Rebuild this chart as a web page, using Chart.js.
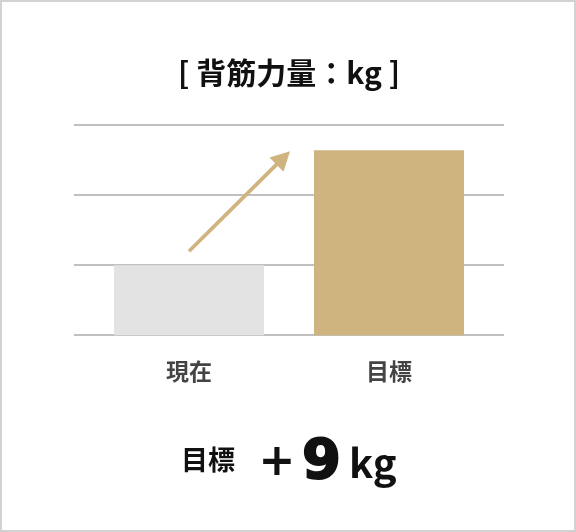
<!DOCTYPE html>
<html><head><meta charset="utf-8">
<script src="https://cdn.jsdelivr.net/npm/chart.js@4"></script>
<style>
html,body{margin:0;padding:0;background:#fff;}
#wrap{position:relative;width:576px;height:532px;box-sizing:border-box;border:2px solid #d2d2d2;background:#fff;}
#c{position:absolute;left:-2px;top:-2px;}
</style></head>
<body>
<div id="wrap"><canvas id="c" width="576" height="532"></canvas></div>
<script>
const categories = ['現在', '目標'];
const values = [1.0, 2.64];
const barColors = ['#e3e3e3', '#cfb480'];
const yTicks = [0, 1, 2, 3];
const titleText = '[ 背筋力量：kg ]';
const footLabel = '目標';
const footPlus = '+';
const footNumber = '9';
const footUnit = 'kg';

const CJK = "'Noto Sans CJK JP', 'Noto Sans', sans-serif";

const gridPlugin = {
  id: 'gridPlugin',
  beforeDatasetsDraw(chart) {
    const y = chart.scales.y, area = chart.chartArea, ctx = chart.ctx;
    const ext = 15;
    ctx.save();
    ctx.strokeStyle = '#c0c0c0';
    ctx.lineWidth = 2;
    yTicks.forEach(v => {
      const py = Math.round(y.getPixelForValue(v));
      ctx.beginPath();
      ctx.moveTo(area.left - ext, py);
      ctx.lineTo(area.right + ext, py);
      ctx.stroke();
    });
    ctx.restore();
  }
};

const arrowPlugin = {
  id: 'arrowPlugin',
  afterDatasetsDraw(chart) {
    const meta = chart.getDatasetMeta(0);
    const b0 = meta.data[0], b1 = meta.data[1];
    const ctx = chart.ctx;
    const x0 = b0.x, y0 = b0.y - 14;
    const x1 = b1.x - b1.width / 2 - 24, y1 = b1.y + 1;
    const ang = Math.atan2(y1 - y0, x1 - x0);
    const headLen = 19, headHalf = 10;
    ctx.save();
    ctx.strokeStyle = '#cfb480';
    ctx.fillStyle = '#cfb480';
    ctx.lineWidth = 3.8;
    ctx.beginPath();
    ctx.moveTo(x0, y0);
    ctx.lineTo(x1 - Math.cos(ang) * headLen * 0.8, y1 - Math.sin(ang) * headLen * 0.8);
    ctx.stroke();
    const bx = x1 - Math.cos(ang) * headLen, by = y1 - Math.sin(ang) * headLen;
    ctx.beginPath();
    ctx.moveTo(x1, y1);
    ctx.lineTo(bx + Math.sin(ang) * headHalf, by - Math.cos(ang) * headHalf);
    ctx.lineTo(bx - Math.sin(ang) * headHalf, by + Math.cos(ang) * headHalf);
    ctx.closePath();
    ctx.fill();
    ctx.restore();
  },
  afterDraw(chart) {
    const ctx = chart.ctx;
    ctx.save();
    ctx.fillStyle = '#111';
    ctx.strokeStyle = '#111';
    ctx.textAlign = 'left';
    ctx.textBaseline = 'middle';
    ctx.font = "bold 27px " + CJK;
    ctx.fillText(footLabel, 181, 460);
    ctx.textBaseline = 'alphabetic';
    ctx.font = "bold 44px 'DejaVu Sans'";
    ctx.textAlign = 'center';
    ctx.fillText(footPlus, 277, 475);
    ctx.textAlign = 'left';
    ctx.font = "bold 56px 'DejaVu Sans'";
    ctx.lineWidth = 2;
    ctx.fillText(footNumber, 302, 478);
    ctx.strokeText(footNumber, 302, 478);
    ctx.font = "bold 40px " + CJK;
    ctx.fillText(footUnit, 349, 478);
    ctx.restore();
  }
};

new Chart(document.getElementById('c'), {
  type: 'bar',
  data: {
    labels: categories,
    datasets: [{ data: values, backgroundColor: barColors, borderWidth: 0, barPercentage: 0.75, categoryPercentage: 1.0 }]
  },
  options: {
    responsive: false,
    animation: false,
    layout: { padding: { left: 89, right: 87, top: 0, bottom: 125 } },
    plugins: {
      legend: { display: false },
      tooltip: { enabled: false },
      title: {
        display: true,
        text: titleText,
        color: '#111',
        font: { family: CJK, size: 30, weight: 'bold', lineHeight: 1.2 },
        padding: { top: 55, bottom: 34 }
      }
    },
    scales: {
      x: {
        grid: { display: false, drawTicks: false },
        border: { display: false },
        ticks: { color: '#444', padding: 22, font: { family: CJK, size: 23, weight: 'bold', lineHeight: 1.2 } }
      },
      y: {
        min: yTicks[0], max: yTicks[yTicks.length - 1],
        afterBuildTicks(scale) { scale.ticks = yTicks.map(v => ({ value: v })); },
        grid: { display: false, drawTicks: false },
        border: { display: false },
        ticks: { display: false }
      }
    }
  },
  plugins: [gridPlugin, arrowPlugin]
});
</script>
</body></html>
